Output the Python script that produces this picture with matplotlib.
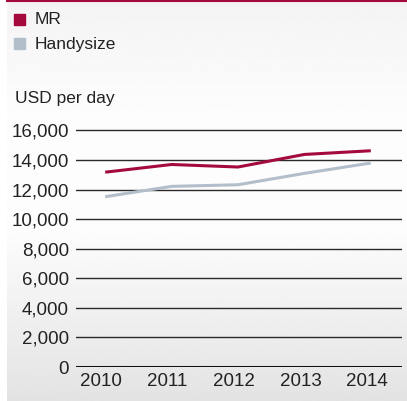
import numpy as np
import matplotlib.pyplot as plt
import matplotlib.transforms as mtransforms
from matplotlib.patches import Rectangle

plt.rcParams['font.family'] = ['Liberation Sans', 'DejaVu Sans']

# Datos
years = [2010, 2011, 2012, 2013, 2014]
mr = [13180, 13700, 13530, 14380, 14630]
handysize = [11520, 12220, 12330, 13100, 13800]
yticks = [0, 2000, 4000, 6000, 8000, 10000, 12000, 14000, 16000]

red = '#a50a3c'
grey = '#b2bfcb'

fig = plt.figure(figsize=(4.07, 4.01), dpi=100)

# fondo con degradado
bg = fig.add_axes([7 / 407, 0, 400 / 407, 1], zorder=0)
grad = np.concatenate([np.linspace(0.955, 0.99, 40), np.linspace(0.99, 0.99, 40),
                       np.linspace(0.99, 0.89, 60)])
bg.imshow(grad[:, None], aspect='auto', cmap='gray', vmin=0, vmax=1,
          extent=[0, 1, 0, 1], origin='upper')
bg.axis('off')

# linea roja superior
fig.add_artist(plt.Line2D([7 / 407, 1], [1 - 1 / 401, 1 - 1 / 401], color=red, lw=1.5))

ax = fig.add_axes([76 / 407, 34 / 401, 326 / 407, 240 / 401], zorder=1)
ax.patch.set_alpha(0)
ax.plot(years, mr, color=red, lw=2.2, solid_capstyle='butt')
ax.plot(years, handysize, color=grey, lw=2.2, solid_capstyle='butt')

ax.set_ylim(0, 16000 * 240 / 236.5)
ax.set_xlim(2009.56, 2014.47)
ax.set_yticks(yticks)
ax.set_yticklabels([f'{v:,}' for v in yticks], fontsize=13.5, color='#222222')
ax.set_xticks(years)
ax.set_xticklabels([str(y) for y in years], fontsize=13.5, color='#222222')
ax.tick_params(length=0, pad=5)
ax.tick_params(axis='x', pad=4)
shift = mtransforms.ScaledTranslation(-4 / 100, 0, fig.dpi_scale_trans)
for lab in ax.get_xticklabels():
    lab.set_transform(lab.get_transform() + shift)
for v in yticks[1:]:
    ax.axhline(v, color='#2a2a2a', lw=1.0, zorder=0.5)
ax.axhline(0, color='#111111', lw=2.2, zorder=0.5)
for s in ax.spines.values():
    s.set_visible(False)

# leyenda
fig.add_artist(Rectangle((14 / 407, 1 - 25 / 401), 11 / 407, 11 / 401,
                         transform=fig.transFigure, color=red))
fig.add_artist(Rectangle((14 / 407, 1 - 49 / 401), 11 / 407, 11 / 401,
                         transform=fig.transFigure, color=grey))
fig.text(35 / 407, 1 - 20 / 401, 'MR', fontsize=12.5, va='center', color='#222222')
fig.text(35 / 407, 1 - 44 / 401, 'Handysize', fontsize=12.5, va='center', color='#222222')
fig.text(15 / 407, 1 - 98 / 401, 'USD per day', fontsize=12.5, va='center', color='#222222')

plt.savefig('out.png', dpi=100)
